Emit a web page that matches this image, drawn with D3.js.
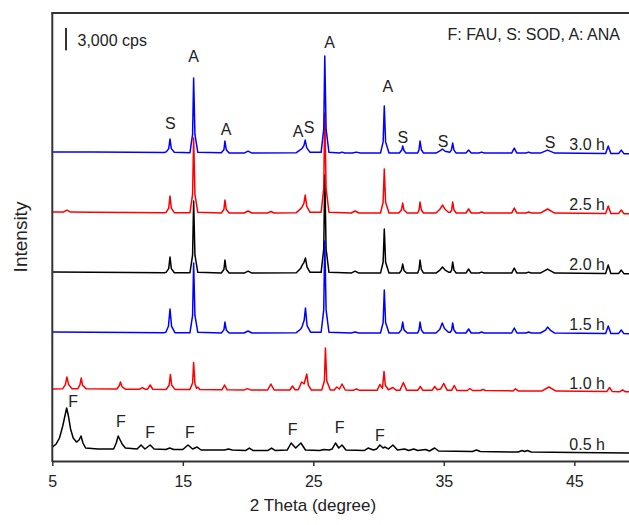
<!DOCTYPE html>
<html lang="en">
<head>
    <meta charset="UTF-8">
    <title>XRD patterns</title>
    <script src="https://d3js.org/d3.v7.min.js"></script>
    <style>
        body { margin: 0; background: #fff; }
        text { font-family: Arial, "Liberation Sans", sans-serif; fill: #222; }
    </style>
</head>
<body>
    <div id="chart-container"></div>
    <script>
        // Tick labels of the 2 theta axis
        const thetaTicks = [5, 15, 25, 35, 45];

        // Sample names, and the baseline shift (cps) of each stacked pattern
        const hours = ["0.5 h", "1.0 h", "1.5 h", "2.0 h", "2.5 h", "3.0 h"];
        const offsets = [1070, 9240, 17140, 25170, 33210, 41240];

        // Patterns: [2 theta, intensity above baseline (cps)]
        const p05 = [[5,800],[5.3,1210],[5.55,2010],[5.8,3620],[5.95,4820],[6.1,6030],[6.25,4820],[6.4,3220],
            [6.6,2010],[6.85,1470],[7.05,1740],[7.2,2280],[7.35,1340],[7.55,670],[8.5,540],[9.7,540],
            [9.9,1340],[10.05,2280],[10.2,1740],[10.35,1210],[10.6,670],[11.5,540],[11.8,1070],[12.1,540],
            [12.5,1070],[12.8,540],[13.7,470],[14.0,670],[14.3,470],[15.0,470],[15.4,1070],[15.75,540],
            [16.1,800],[16.4,400],[18.2,400],[18.5,540],[18.8,400],[19.8,330],[20.1,670],[20.4,330],
            [21.5,330],[21.8,670],[22.1,330],[23.0,400],[23.3,1340],[23.65,670],[24.05,1340],[24.4,400],
            [25.5,330],[25.8,470],[26.2,400],[26.45,540],[26.7,1340],[26.95,670],[27.2,1070],[27.5,400],
            [28.9,330],[29.2,670],[29.6,400],[29.85,540],[30.1,1070],[30.35,670],[30.5,800],[30.75,540],
            [31.1,1070],[31.45,400],[32.0,540],[32.3,330],[32.7,540],[33.0,330],[33.6,470],[33.9,270],
            [34.3,670],[34.6,270],[37.2,200],[37.5,400],[37.8,200],[40.7,130],[41.0,330],[41.2,200],
            [41.4,330],[41.7,130],[45,70],[50,0]];

        const p10 = [[5,400],[5.8,450],[6.0,1000],[6.12,2010],[6.25,1000],[6.5,450],[6.95,420],[7.12,1000],
            [7.22,1880],[7.32,900],[7.6,420],[9.8,400],[9.95,400],[10.15,900],[10.22,1340],[10.35,700],
            [10.6,380],[11.7,380],[11.9,600],[12.1,380],[12.3,380],[12.5,940],[12.7,370],[13.7,350],
            [13.75,400],[13.95,900],[14.05,2350],[14.15,900],[14.4,350],[15.55,350],[15.75,1200],
            [15.83,3950],[15.93,1100],[16.05,500],[16.15,650],[16.3,330],[18.0,300],[18.2,940],[18.4,300],
            [19.7,280],[19.95,450],[20.2,280],[21.5,270],[21.75,1070],[22.0,270],[23.2,270],[23.4,800],
            [23.6,300],[23.85,300],[24.1,1340],[24.3,1100],[24.5,2410],[24.62,900],[24.85,270],[25.65,270],
            [25.85,1500],[25.93,5900],[26.03,1500],[26.3,270],[26.6,270],[26.8,670],[27.0,400],[27.2,1070],
            [27.45,270],[28.1,250],[28.3,400],[28.5,250],[29.9,250],[30.1,1000],[30.3,500],[30.42,2750],
            [30.52,900],[30.75,300],[31.1,600],[31.35,250],[31.65,250],[31.9,1270],[32.15,250],[33.0,220],
            [33.2,740],[33.4,220],[34.1,220],[34.3,740],[34.5,300],[34.75,400],[35.0,1140],[35.25,250],
            [35.6,220],[35.8,870],[36.0,200],[36.8,200],[37.0,470],[37.2,200],[37.8,200],[38.0,330],
            [38.2,200],[40.3,150],[40.5,420],[40.7,150],[42.5,130],[43.05,670],[43.6,130],[47.5,80],
            [47.7,600],[47.9,80],[48.5,50],[48.7,300],[48.9,50],[50,0]];

        const p15 = [[5,130],[8,100],[11,80],[13.6,50],[13.7,100],[13.9,900],[14.02,3220],[14.14,900],
            [14.4,50],[15.55,50],[15.75,2350],[15.83,9380],[15.93,2350],[16.15,100],[17.95,0],[18.15,420],
            [18.23,1470],[18.33,420],[18.55,0],[19.7,0],[20.0,270],[20.3,0],[23.7,50],[24.02,500],[24.15,900],
            [24.3,1700],[24.4,3350],[24.52,1000],[24.8,100],[25.6,100],[25.8,3100],[25.88,12330],[25.98,3100],
            [26.2,100],[27.9,0],[28.2,130],[28.5,0],[30.15,0],[30.35,1400],[30.44,5760],[30.54,1400],
            [30.8,0],[31.55,0],[31.75,420],[31.85,1470],[31.95,420],[32.2,0],[33.0,0],[33.1,420],
            [33.18,1470],[33.28,420],[33.45,0],[34.4,0],[34.7,500],[34.88,1340],[35.05,600],[35.35,100],
            [35.5,100],[35.6,400],[35.68,1340],[35.78,400],[35.95,0],[36.7,0],[36.9,540],[37.1,0],
            [37.7,0],[37.9,130],[38.1,0],[40.2,0],[40.4,670],[40.6,0],[41.3,0],[41.5,130],[41.7,0],
            [42.4,0],[42.8,400],[42.95,800],[43.15,400],[43.5,0],[47.4,-50],[47.6,940],[47.8,-50],
            [48.4,-50],[48.6,400],[48.8,-80],[50,-100]];

        const p20 = [[5,130],[8,100],[11,80],[13.6,50],[13.72,100],[13.92,600],[14.02,2140],[14.12,600],
            [14.35,50],[15.55,50],[15.75,2400],[15.83,9650],[15.93,2400],[16.15,100],[17.95,0],[18.15,480],
            [18.23,1740],[18.33,480],[18.55,0],[19.7,0],[20.0,270],[20.3,0],[23.7,50],[24.02,600],[24.15,1070],
            [24.28,1400],[24.4,2010],[24.52,800],[24.75,100],[25.6,100],[25.8,3250],[25.88,13130],[25.98,3250],
            [26.2,100],[27.9,0],[28.2,270],[28.5,0],[30.15,0],[30.35,1450],[30.44,5900],[30.54,1450],
            [30.8,0],[31.6,0],[31.75,350],[31.85,1210],[31.95,350],[32.15,0],[33.0,0],[33.1,480],
            [33.18,1740],[33.28,480],[33.45,0],[34.4,0],[34.7,400],[34.9,800],[35.1,400],[35.4,100],
            [35.5,100],[35.6,400],[35.68,1470],[35.78,400],[35.95,0],[36.7,0],[36.9,540],[37.1,0],
            [37.7,0],[37.9,130],[38.1,0],[40.2,0],[40.4,670],[40.6,0],[41.3,0],[41.5,130],[41.7,0],
            [42.4,0],[42.95,540],[43.5,0],[47.4,-50],[47.6,1070],[47.8,-50],[48.4,-50],[48.6,400],
            [48.8,-80],[50,-100]];

        const p25 = [[5,130],[5.85,130],[6.12,400],[6.4,130],[8,100],[11,80],[13.6,50],[13.72,100],
            [13.92,650],[14.02,2280],[14.12,650],[14.35,50],[15.55,50],[15.75,2500],[15.83,10050],
            [15.93,2500],[16.15,100],[17.95,0],[18.15,480],[18.23,1740],[18.33,480],[18.55,0],[19.7,0],
            [20.0,270],[20.3,0],[21.5,0],[21.75,200],[22.0,0],[23.7,50],[24.02,550],[24.15,850],[24.28,1300],
            [24.38,2410],[24.5,900],[24.75,100],[25.6,100],[25.8,3300],[25.88,13400],[25.98,3300],[26.2,100],
            [27.9,0],[28.2,270],[28.5,0],[30.15,0],[30.35,1450],[30.44,5900],[30.54,1450],[30.8,0],
            [31.55,0],[31.75,400],[31.85,1340],[31.95,400],[32.2,0],[33.0,0],[33.1,400],[33.18,1470],
            [33.28,400],[33.45,0],[34.4,0],[34.7,500],[34.9,1070],[35.1,500],[35.35,100],[35.5,100],
            [35.6,400],[35.68,1470],[35.78,400],[35.95,0],[36.7,0],[36.9,540],[37.1,0],[37.7,0],
            [37.9,130],[38.1,0],[40.2,0],[40.4,670],[40.6,0],[41.3,0],[41.5,130],[41.7,0],[42.4,0],
            [42.95,540],[43.5,0],[47.4,-50],[47.6,940],[47.8,-50],[48.4,-50],[48.6,400],[48.8,-80],[50,-100]];

        const p30 = [[5,150],[8,130],[11,100],[13.6,80],[13.75,200],[13.92,600],[14.02,1880],[14.12,600],
            [14.35,100],[15.55,60],[15.75,2500],[15.83,10050],[15.93,2500],[16.15,100],[17.95,30],[18.15,450],
            [18.23,1610],[18.33,450],[18.55,0],[19.7,0],[20.0,270],[20.3,0],[23.7,50],[24.02,450],[24.15,650],
            [24.28,1000],[24.38,1740],[24.5,700],[24.75,100],[25.6,100],[25.8,3200],[25.88,13000],[25.98,3200],
            [26.2,100],[27.0,0],[27.2,130],[27.4,0],[28.0,0],[28.3,130],[28.6,0],[30.15,0],[30.35,1500],
            [30.44,6300],[30.54,1500],[30.8,0],[31.6,0],[31.78,400],[31.85,940],[31.95,350],[32.1,0],
            [33.0,0],[33.1,450],[33.18,1610],[33.28,450],[33.45,0],[34.4,0],[34.7,300],[34.9,540],
            [35.1,250],[35.45,100],[35.58,400],[35.68,1340],[35.78,400],[35.95,0],[36.7,0],[36.9,400],
            [37.1,0],[37.7,0],[37.9,130],[38.1,0],[40.2,0],[40.4,670],[40.6,0],[41.3,0],[41.5,130],
            [41.7,0],[42.4,0],[42.95,400],[43.5,0],[47.4,-50],[47.6,940],[47.8,-50],[48.4,-50],
            [48.6,400],[48.8,-80],[50,-100]];

        const patterns = [p05, p10, p15, p20, p25, p30];

        // Phase marks: letter, 2 theta, intensity (cps)
        const phaseMarks = [
            ["S", 14.04, 44450], ["A", 15.82, 53430], ["A", 18.31, 43650], ["A", 23.83, 43380],
            ["S", 24.67, 43920], ["A", 26.24, 55300], ["A", 30.72, 49450], ["S", 31.87, 42580],
            ["S", 34.94, 42080], ["S", 43.14, 41910],
            ["F", 6.59, 7230], ["F", 10.26, 4510], ["F", 12.49, 3080], ["F", 15.55, 3080],
            ["F", 23.42, 3480], ["F", 27.02, 3750], ["F", 30.11, 2680]
        ];

        const scaleBarCps = 3000;

        // Look
        const colors = ["#000", "#ff0000", "#0000ff", "#000", "#ff0000", "#0000ff"];
        const drawOrder = [0, 1, 3, 2, 4, 5];
        const width = 629, height = 525;
        const plotLeft = 52.3, plotTop = 13, plotBottom = 461;

        const x = d3.scaleLinear().domain([5, 50]).range([plotLeft, plotLeft + 45 * 13.05]);
        const y = d3.scaleLinear().domain([0, 60000]).range([plotBottom, plotTop]);

        const svg = d3.select("#chart-container")
            .append("svg")
            .attr("width", width)
            .attr("height", height);

        svg.append("clipPath").attr("id", "plot-clip")
            .append("rect")
            .attr("x", plotLeft).attr("y", 0)
            .attr("width", width - plotLeft).attr("height", plotBottom);

        const plot = svg.append("g").attr("clip-path", "url(#plot-clip)");

        // the stacked patterns
        drawOrder.forEach(i => {
            const line = d3.line()
                .x(d => x(d[0]))
                .y(d => y(d[1] + offsets[i]));
            plot.append("path")
                .datum(patterns[i])
                .attr("d", line)
                .attr("fill", "none")
                .attr("stroke", colors[i])
                .attr("stroke-width", 1.5)
                .attr("stroke-linejoin", "round");
        });

        // sample labels at the right
        svg.selectAll(".hour")
            .data(hours)
            .enter()
            .append("text")
            .attr("class", "hour")
            .attr("x", x(47.35))
            .attr("y", (d, i) => y(offsets[i]) - 3)
            .attr("text-anchor", "end")
            .style("font-size", "16px")
            .text(d => d);

        // phase letters
        svg.selectAll(".mark")
            .data(phaseMarks)
            .enter()
            .append("text")
            .attr("class", "mark")
            .attr("x", d => x(d[1]))
            .attr("y", d => y(d[2]))
            .attr("text-anchor", "middle")
            .style("font-size", "16px")
            .text(d => d[0]);

        // frame
        svg.append("line")
            .attr("x1", plotLeft).attr("x2", plotLeft)
            .attr("y1", plotTop).attr("y2", plotBottom + 1)
            .attr("stroke", "#333").attr("stroke-width", 2);
        svg.append("line")
            .attr("x1", plotLeft - 1).attr("x2", width)
            .attr("y1", plotTop).attr("y2", plotTop)
            .attr("stroke", "#333").attr("stroke-width", 2);

        const xAxis = svg.append("g")
            .attr("transform", `translate(0,${plotBottom})`)
            .call(d3.axisBottom(x).tickValues(thetaTicks).tickSize(5).tickSizeOuter(0).tickPadding(10));
        xAxis.select(".domain").attr("stroke", "#333").attr("stroke-width", 2);
        xAxis.selectAll(".tick line").attr("stroke", "#333").attr("stroke-width", 1.5);
        xAxis.selectAll(".tick text")
            .style("font-size", "16px")
            .style("font-family", "Arial, 'Liberation Sans', sans-serif")
            .attr("fill", "#222");

        // axis titles
        svg.append("text")
            .attr("x", 313)
            .attr("y", 511)
            .attr("text-anchor", "middle")
            .style("font-size", "17px")
            .text("2 Theta (degree)");
        svg.append("text")
            .attr("transform", `translate(27,${(plotTop + plotBottom) / 2}) rotate(-90)`)
            .attr("text-anchor", "middle")
            .style("font-size", "19px")
            .text("Intensity");

        // scale bar and phase key
        const barBase = 55000;
        svg.append("line")
            .attr("x1", x(6.05)).attr("x2", x(6.05))
            .attr("y1", y(barBase)).attr("y2", y(barBase + scaleBarCps))
            .attr("stroke", "#333").attr("stroke-width", 2);
        svg.append("text")
            .attr("x", x(6.05) + 11.5)
            .attr("y", y(barBase) - 4)
            .style("font-size", "16px")
            .text("3,000 cps");
        svg.append("text")
            .attr("x", 620)
            .attr("y", 40)
            .attr("text-anchor", "end")
            .style("font-size", "16px")
            .text("F: FAU, S: SOD, A: ANA");
    </script>
</body>
</html>
